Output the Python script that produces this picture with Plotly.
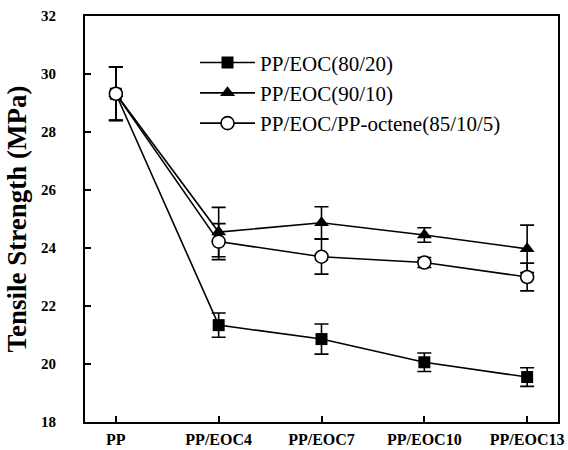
import plotly.graph_objects as go

categories = ["PP", "PP/EOC4", "PP/EOC7", "PP/EOC10", "PP/EOC13"]

names = ["PP/EOC(80/20)", "PP/EOC(90/10)", "PP/EOC/PP-octene(85/10/5)"]

ts_80_20 = [29.32, 21.34, 20.86, 20.06, 19.55]
err_80_20 = [0.92, 0.42, 0.52, 0.32, 0.32]

ts_90_10 = [29.32, 24.55, 24.87, 24.45, 23.97]
err_90_10 = [0.92, 0.85, 0.55, 0.25, 0.82]

ts_85_10_5 = [29.32, 24.22, 23.70, 23.50, 23.00]
err_85_10_5 = [0.92, 0.62, 0.60, 0.17, 0.48]

y_ticks = [18, 20, 22, 24, 26, 28, 30, 32]

x_idx = list(range(len(categories)))

FONT = "Times New Roman, Liberation Serif, DejaVu Serif, serif"

series = [
    (names[0], ts_80_20, err_80_20, dict(symbol="square", size=12, color="black")),
    (names[1], ts_90_10, err_90_10, dict(symbol="triangle-up", size=13, color="black")),
    (names[2], ts_85_10_5, err_85_10_5,
     dict(symbol="circle", size=13, color="white", line=dict(color="black", width=1.6))),
]

fig = go.Figure()
for name, vals, errs, mk in series:
    fig.add_trace(go.Scatter(
        x=x_idx, y=vals, name=name, mode="lines+markers",
        line=dict(color="black", width=1.6),
        marker=mk,
        error_y=dict(type="data", array=errs, visible=True, color="black",
                     thickness=1.6, width=7),
    ))

fig.update_layout(
    width=568, height=450,
    margin=dict(l=85, r=10, t=16, b=28),
    paper_bgcolor="white", plot_bgcolor="white",
    font=dict(family=FONT, color="black"),
    showlegend=True,
    legend=dict(x=0.2326, y=0.935, xanchor="left", yanchor="top",
                bgcolor="rgba(0,0,0,0)", font=dict(size=21, family=FONT),
                tracegroupgap=0, itemwidth=55),
    xaxis=dict(
        range=[-0.3, 4.3], tickmode="array", tickvals=x_idx, ticktext=categories,
        ticks="inside", ticklen=6, tickwidth=1.5, tickcolor="black",
        showline=True, linecolor="black", linewidth=2, mirror=True,
        showgrid=False, zeroline=False, automargin=False,
        tickfont=dict(size=16, family=FONT, weight="bold"),
        ticklabelstandoff=2,
    ),
    yaxis=dict(
        range=[18, 32], tickmode="array", tickvals=y_ticks,
        ticks="inside", ticklen=6, tickwidth=1.5, tickcolor="black",
        showline=True, linecolor="black", linewidth=2, mirror=True,
        showgrid=False, zeroline=False, automargin=False,
        tickfont=dict(size=15, family=FONT, weight="bold"),
        ticklabelstandoff=24,
        title=dict(text="Tensile Strength (MPa)", standoff=7,
                   font=dict(size=27, family=FONT, weight="bold")),
    ),
)

fig.write_html("out.html")
